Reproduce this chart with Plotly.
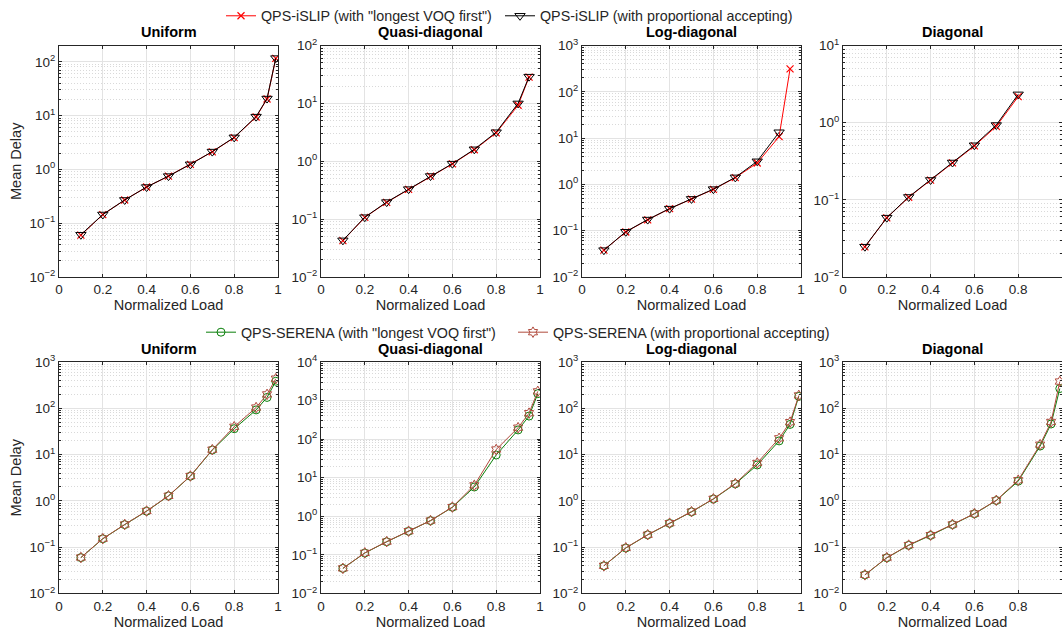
import plotly.graph_objects as go

# ---------------- data ----------------
load_full = [0.1, 0.2, 0.3, 0.4, 0.5, 0.6, 0.7, 0.8, 0.9, 0.95, 0.99]
load_q = [0.1, 0.2, 0.3, 0.4, 0.5, 0.6, 0.7, 0.8, 0.9, 0.95]
load_log_red = [0.1, 0.2, 0.3, 0.4, 0.5, 0.6, 0.7, 0.8, 0.9, 0.95]
load_log_blk = [0.1, 0.2, 0.3, 0.4, 0.5, 0.6, 0.7, 0.8, 0.9]
load_diag = [0.1, 0.2, 0.3, 0.4, 0.5, 0.6, 0.7, 0.8]

titles = ["Uniform", "Quasi-diagonal", "Log-diagonal", "Diagonal"]

# Top row: QPS-iSLIP
islip_lvf_uniform = [0.060, 0.144, 0.27, 0.47, 0.75, 1.24, 2.12, 3.90, 9.4, 20.3, 116]
islip_pa_uniform = [0.061, 0.145, 0.27, 0.47, 0.75, 1.24, 2.14, 3.93, 9.55, 20.7, 117]
islip_lvf_quasi = [0.0425, 0.107, 0.195, 0.327, 0.553, 0.90, 1.58, 3.10, 9.3, 28.5]
islip_pa_quasi = [0.0430, 0.108, 0.197, 0.330, 0.556, 0.91, 1.61, 3.18, 10.0, 29.0]
islip_lvf_log = [0.038, 0.094, 0.172, 0.30, 0.483, 0.78, 1.40, 2.90, 10.8, 313]
islip_pa_log = [0.038, 0.095, 0.174, 0.30, 0.487, 0.79, 1.42, 3.16, 13.4]
islip_lvf_diag = [0.0246, 0.0585, 0.108, 0.180, 0.302, 0.500, 0.897, 2.18]
islip_pa_diag = [0.0247, 0.0588, 0.109, 0.181, 0.305, 0.510, 0.933, 2.33]

# Bottom row: QPS-SERENA
serena_lvf_uniform = [0.0596, 0.152, 0.307, 0.600, 1.28, 3.42, 12.6, 36.3, 92.5, 172, 385]
serena_pa_uniform = [0.0598, 0.153, 0.309, 0.605, 1.29, 3.45, 12.8, 40.0, 104, 200, 437]
serena_lvf_quasi = [0.0447, 0.112, 0.219, 0.410, 0.772, 1.72, 5.76, 38.9, 174, 398, 1513]
serena_pa_quasi = [0.0448, 0.113, 0.221, 0.412, 0.776, 1.74, 6.36, 54.0, 199, 473, 1737]
serena_lvf_log = [0.0395, 0.096, 0.185, 0.327, 0.580, 1.10, 2.33, 5.98, 19.8, 44.9, 181]
serena_pa_log = [0.0396, 0.097, 0.186, 0.330, 0.585, 1.11, 2.38, 6.59, 22.5, 50.3, 190]
serena_lvf_diag = [0.0252, 0.059, 0.110, 0.180, 0.307, 0.527, 1.02, 2.67, 15.3, 45.9, 268]
serena_pa_diag = [0.0253, 0.0595, 0.111, 0.182, 0.310, 0.532, 1.03, 2.80, 16.4, 50.7, 379]

top_yrange = [[-2, 2.301], [-2, 2], [-2, 3], [-2, 1]]
bot_yrange = [[-2, 3], [-2, 4], [-2, 3], [-2, 3]]
decade_exponents = [-2, -1, 0, 1, 2, 3, 4]
x_ticks = [0, 0.2, 0.4, 0.6, 0.8, 1]
x_ticklabels = ["0", "0.2", "0.4", "0.6", "0.8", "1"]

# ---------------- style ----------------
W, H = 1062, 637
FONT = "Liberation Sans, Arial, Helvetica, sans-serif"
AX = "#262626"
RED = "#FF0000"
BLACK = "#000000"
GREEN = "#0A7F0A"
BROWN = "#B04A3C"

col_left = [59, 321, 582, 843]
ax_w = 219
top_px = (39, 273)
bot_px = (359, 593)


def xdom(i):
    return [col_left[i] / W, min(1.0, (col_left[i] + ax_w) / W)]


def ydom(p):
    return [1 - p[1] / H, 1 - p[0] / H]


def minus(e):
    return str(e).replace("-", "\u2212")


fig = go.Figure()

top_sets = [
    (load_full, islip_lvf_uniform, load_full, islip_pa_uniform),
    (load_q, islip_lvf_quasi, load_q, islip_pa_quasi),
    (load_log_red, islip_lvf_log, load_log_blk, islip_pa_log),
    (load_diag, islip_lvf_diag, load_diag, islip_pa_diag),
]
bot_sets = [
    (load_full, serena_lvf_uniform, serena_pa_uniform),
    (load_full, serena_lvf_quasi, serena_pa_quasi),
    (load_full, serena_lvf_log, serena_pa_log),
    (load_full, serena_lvf_diag, serena_pa_diag),
]

for i, (xr, yr, xb, yb) in enumerate(top_sets):
    n = i + 1
    xa = "x" if n == 1 else f"x{n}"
    ya = "y" if n == 1 else f"y{n}"
    fig.add_trace(go.Scatter(
        x=xr, y=yr, xaxis=xa, yaxis=ya, mode="lines+markers",
        name='QPS-iSLIP (with "longest VOQ first")',
        line=dict(color=RED, width=1),
        marker=dict(symbol="x-thin-open", size=7, color=RED,
                    line=dict(color=RED, width=1.2)),
        showlegend=(i == 0), legend="legend"))
    fig.add_trace(go.Scatter(
        x=xb, y=yb, xaxis=xa, yaxis=ya, mode="lines+markers",
        name="QPS-iSLIP (with proportional accepting)",
        line=dict(color=BLACK, width=1),
        marker=dict(symbol="triangle-down-open", size=9, color=BLACK,
                    line=dict(color=BLACK, width=1)),
        showlegend=(i == 0), legend="legend2"))

for i, (x, yg, yp) in enumerate(bot_sets):
    n = i + 5
    xa = f"x{n}"
    ya = f"y{n}"
    fig.add_trace(go.Scatter(
        x=x, y=yg, xaxis=xa, yaxis=ya, mode="lines+markers",
        name='QPS-SERENA (with "longest VOQ first")',
        line=dict(color=GREEN, width=1),
        marker=dict(symbol="circle-open", size=8, color=GREEN,
                    line=dict(color=GREEN, width=1)),
        showlegend=(i == 0), legend="legend3"))
    fig.add_trace(go.Scatter(
        x=x, y=yp, xaxis=xa, yaxis=ya, mode="lines+markers",
        name="QPS-SERENA (with proportional accepting)",
        line=dict(color=BROWN, width=1),
        marker=dict(symbol="hexagram-open", size=8, color=BROWN,
                    line=dict(color=BROWN, width=1)),
        showlegend=(i == 0), legend="legend4"))

layout = dict(
    width=W, height=H,
    margin=dict(l=0, r=0, t=0, b=0),
    paper_bgcolor="white", plot_bgcolor="white",
    font=dict(family=FONT, size=14, color=AX),
    annotations=[],
)

for n in range(1, 9):
    i = (n - 1) % 4
    top = n <= 4
    yr = top_yrange[i] if top else bot_yrange[i]
    exps = [e for e in decade_exponents if yr[0] <= e <= yr[1] + 1e-9]
    xkey = "xaxis" if n == 1 else f"xaxis{n}"
    ykey = "yaxis" if n == 1 else f"yaxis{n}"
    yname = "y" if n == 1 else f"y{n}"
    xname = "x" if n == 1 else f"x{n}"
    layout[xkey] = dict(
        domain=xdom(i), anchor=yname, range=[0, 1],
        tickvals=x_ticks, ticktext=x_ticklabels,
        showgrid=True, gridcolor="#e3e3e3", gridwidth=1, zeroline=False,
        showline=True, linecolor=AX, linewidth=1, mirror="ticks",
        ticks="inside", ticklen=3, tickcolor=AX,
        tickfont=dict(family=FONT, size=13.5, color=AX),
        title=dict(text="Normalized Load", font=dict(family=FONT, size=14.5, color=AX), standoff=3),
        automargin=False,
    )
    layout[ykey] = dict(
        domain=ydom(top_px if top else bot_px), anchor=xname, type="log",
        range=yr,
        tickvals=[10.0 ** e for e in exps],
        ticktext=[f"10<sup>{minus(e)}</sup>" for e in exps],
        showgrid=True, gridcolor="#e3e3e3", gridwidth=1, zeroline=False,
        showline=True, linecolor=AX, linewidth=1, mirror="ticks",
        ticks="inside", ticklen=3, tickcolor=AX,
        tickfont=dict(family=FONT, size=13.5, color=AX),
        minor=dict(dtick="D1", showgrid=True, gridcolor="#d9d9d9", griddash="1px,2px",
                   gridwidth=1, ticks="inside", ticklen=2, tickcolor=AX),
        automargin=False,
    )
    if i == 0:
        layout[ykey]["title"] = dict(text="Mean Delay", font=dict(family=FONT, size=14.5, color=AX), standoff=4)
    layout["annotations"].append(dict(
        text=f"<b>{titles[i]}</b>", xref=f"{xname} domain", yref=f"{yname} domain",
        x=0.5, y=1, xanchor="center", yanchor="middle", yshift=13.5, showarrow=False,
        font=dict(family=FONT, size=14.5, color="#000000")))


def leg(xpx, ypx):
    return dict(x=xpx / W, y=1 - ypx / H, xanchor="left", yanchor="middle",
                orientation="h", bgcolor="rgba(0,0,0,0)", borderwidth=0,
                font=dict(family=FONT, size=14.3, color=AX), itemwidth=30,
                tracegroupgap=0)


layout["legend"] = leg(221, 9)
layout["legend2"] = leg(500, 9)
layout["legend3"] = leg(201, 329)
layout["legend4"] = leg(513, 329)

fig.update_layout(**layout)
fig.write_html("out.html", config={"displayModeBar": False},
               post_script="document.body.style.margin='0';document.body.style.padding='0';")
